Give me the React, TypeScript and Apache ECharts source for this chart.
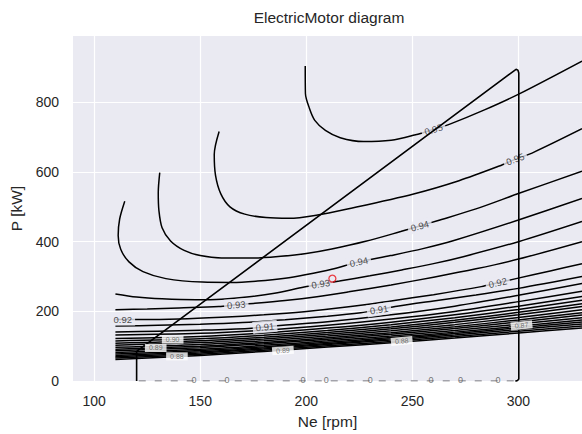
import { useEffect, useRef } from "react";
import * as echarts from "echarts";

const FONT = "'Liberation Sans', Arial, sans-serif";
const TEXT = "#262626";
const PANEL = "#EAEAF2";

const rpmTicks = [100, 150, 200, 250, 300];
const powerTicks = [0, 200, 400, 600, 800];

// Operating envelope: [Ne rpm, P kW]
const envelope = [
  [120, 0], [120, 85], [298.9, 894.5], [299.8, 892], [300.2, 884],
  [300.2, 6], [299.6, 1.5], [298.6, 0],
];

// Iso-efficiency lines, [Ne rpm, P kW]
const eff955 = [
  [199.5, 904], [199.6, 825], [201.5, 782], [204, 748], [209, 719], [216, 698],
  [227, 687], [240, 691], [251, 706], [260, 722], [268, 738], [284, 778],
  [300.4, 824], [330, 918],
];
const eff950 = [
  [158.9, 716], [156.6, 650], [157.2, 590], [159.7, 537], [164, 500], [171, 479],
  [181, 469], [192, 467], [204.7, 476], [219.4, 494], [250.6, 537], [272, 575],
  [291, 617], [298.5, 636], [307.4, 657], [330, 724],
];
const eff945 = [
  [130.9, 598], [130.2, 540], [130.5, 490], [132, 440], [136, 402], [142.4, 375],
  [150, 360], [160, 353], [175, 353], [188, 358], [200, 366], [212, 379],
  [228, 401], [244.5, 429], [253.5, 445], [261.8, 460], [280, 494], [300, 538],
  [330, 602],
];
const eff940 = [
  [114.4, 516], [112, 465], [111.3, 418], [112.5, 378], [116.4, 342], [123, 314],
  [133.8, 294], [151, 284], [165, 283], [177, 287], [190, 295], [199.5, 305],
  [212, 321], [224.8, 342], [239.7, 360], [255, 380], [270, 404], [300, 462],
  [330, 524],
];
const eff935 = [
  [110, 250], [120, 241], [132, 236], [148, 233.5], [160, 235], [172, 241],
  [185, 252], [199, 270], [207.5, 279], [215.6, 287], [230, 302], [245, 319],
  [260, 337], [274, 357], [300, 400], [330, 458],
];
const eff930 = [
  [110, 205], [125, 207], [140, 210], [158.7, 214], [167, 219], [175.8, 223],
  [190, 231], [205, 242], [220, 256], [240, 276], [260, 298], [280, 322],
  [300, 350], [330, 400],
];
const eff925 = [
  [110, 176.5], [121, 176.5], [140, 178], [160, 183], [180, 190], [199, 199],
  [220, 213], [240, 230], [260, 248], [282.5, 271], [290.3, 282], [298.9, 294],
  [315, 316], [330, 337],
];
const eff920 = [
  [110, 158], [130, 160], [150, 163], [170, 168], [190, 176], [210, 186],
  [225.7, 196], [234.3, 205], [242.8, 214.8], [260, 230], [280, 247], [300, 266],
  [330, 300],
];
const eff915 = [
  [110, 141], [130, 143], [150, 146], [172.7, 151], [180.5, 155.5], [189, 160],
  [210, 170], [240, 190], [270, 215], [300, 246], [330, 280],
];
const eff910 = [
  [110, 132], [150, 137], [180, 146], [210, 160], [240, 178], [270, 200],
  [300, 228], [330, 258],
];

// Densely packed low-efficiency lines, sampled at the same speeds
const bandRpm = [110, 150, 180, 210, 240, 270, 300, 330];
const bandPower = [
  [122.5, 128, 138, 152, 169, 190, 215, 243],
  [115, 121.2, 131.4, 145.2, 161.7, 181.8, 205.5, 231.7],
  [108.5, 115.4, 125.8, 139.4, 155.4, 174.6, 197.2, 222],
  [103, 110.4, 120.9, 134.4, 150, 168.6, 190.2, 213.7],
  [97, 105.1, 115.7, 129.1, 144.2, 162, 182.6, 204.7],
  [91.5, 100.1, 110.9, 124.1, 138.8, 156, 175.6, 196.4],
  [87, 96, 106.9, 120, 134.4, 151, 169.8, 189.6],
  [82, 91.5, 102.5, 115.5, 129.5, 145.5, 163.5, 182.1],
  [77.5, 87.5, 98.6, 111.5, 125.1, 140.5, 157.7, 175.3],
  [73.6, 84, 95.2, 108, 121.3, 136.3, 152.8, 169.5],
  [70, 80.7, 92, 104.7, 117.8, 132.3, 148.2, 164],
  [66, 77.1, 88.5, 101.1, 113.9, 127.9, 143.1, 158],
  [62, 73.5, 85, 97.5, 110, 123.5, 138, 152],
];

// Zero-efficiency line along the speed axis
const zeroLine = [[121, 0.5], [299, 0.5]];
const zeroLabelRpm = [147, 162.6, 198.5, 209.4, 230.2, 258.8, 272.7, 290.4];

// Inline contour labels: [Ne rpm, P kW, text]
const inlineLabels = [
  [260, 722, "0.95"],
  [298.5, 637, "0.95"],
  [253.5, 445, "0.94"],
  [224.8, 342, "0.94"],
  [206.8, 279, "0.93"],
  [167, 219, "0.93"],
  [113.5, 176.5, "0.92"],
  [290.3, 282, "0.92"],
  [234.3, 205, "0.91"],
  [180.5, 155.5, "0.91"],
];
const inlineAngles = [18, 21, 15, 12, 9, 4, 0, 13, 9, 5];

// Boxed labels inside the crowded low-efficiency region
const boxedLabels = [
  [137, 119, "0.90"],
  [129, 95, "0.89"],
  [139, 71, "0.88"],
  [189, 88, "0.89"],
  [245, 115, "0.88"],
  [301.5, 160, "0.87"],
];
const boxedAngles = [0, 0, 0, 4, 5, 6];

// Measured operating point
const operatingPoint = [212.3, 294];

export default function App() {
  const ref = useRef<HTMLDivElement>(null);

  useEffect(() => {
    document.body.style.margin = "0";
    const chart = echarts.init(ref.current!, null, { renderer: "svg" });

    const contour = (name: string, data: number[][]) => ({
      type: "line",
      name,
      data,
      symbol: "none",
      showSymbol: false,
      smooth: 0.3,
      clip: true,
      silent: true,
      z: 2,
      lineStyle: { color: "#000", width: 1.5 },
    });

    const upper = [
      ["0.955", eff955], ["0.950", eff950], ["0.945", eff945], ["0.940", eff940],
      ["0.935", eff935], ["0.930", eff930], ["0.925", eff925], ["0.920", eff920],
      ["0.915", eff915], ["0.910", eff910],
    ] as [string, number[][]][];

    const series: any[] = upper.map(([n, d]) => contour(n, d));
    bandPower.forEach((row, i) => {
      series.push(contour("band" + i, row.map((p, j) => [bandRpm[j], p])));
    });

    series.push({
      type: "line",
      name: "zero",
      data: zeroLine,
      symbol: "none",
      clip: true,
      silent: true,
      z: 2,
      lineStyle: { color: "#8c8c92", width: 1.2, type: [7, 9] },
    });

    series.push({
      type: "scatter",
      name: "zeroLabels",
      silent: true,
      z: 3,
      symbolSize: 1,
      itemStyle: { color: "rgba(0,0,0,0)" },
      data: zeroLabelRpm.map((x) => ({ value: [x, 4], name: "0" })),
      label: {
        show: true,
        position: "inside",
        formatter: "{b}",
        fontSize: 9,
        fontFamily: FONT,
        color: "#555",
      },
    });

    series.push({
      type: "scatter",
      name: "inlineLabels",
      silent: true,
      z: 3,
      symbolSize: 1,
      itemStyle: { color: "rgba(0,0,0,0)" },
      data: inlineLabels.map(([x, y, t], i) => ({
        value: [x, y],
        name: t,
        label: { rotate: inlineAngles[i] },
      })),
      label: {
        show: true,
        position: "inside",
        formatter: "{b}",
        fontSize: 9.5,
        fontFamily: FONT,
        color: "#222",
        backgroundColor: PANEL,
        padding: [1, 3],
      },
    });

    series.push({
      type: "line",
      name: "envelope",
      data: envelope,
      symbol: "none",
      clip: true,
      silent: true,
      z: 4,
      lineStyle: { color: "#000", width: 1.6 },
    });

    series.push({
      type: "scatter",
      name: "boxedLabels",
      silent: true,
      z: 5,
      symbolSize: 1,
      itemStyle: { color: "rgba(0,0,0,0)" },
      data: boxedLabels.map(([x, y, t], i) => ({
        value: [x, y],
        name: t,
        label: { rotate: boxedAngles[i] },
      })),
      label: {
        show: true,
        position: "inside",
        formatter: "{b}",
        fontSize: 7,
        lineHeight: 8,
        fontFamily: FONT,
        color: "#555",
        backgroundColor: "#ffffff",
        padding: [0, 4],
      },
    });

    series.push({
      type: "scatter",
      name: "operatingPoint",
      silent: true,
      z: 6,
      symbol: "circle",
      symbolSize: 7,
      data: [operatingPoint],
      itemStyle: { color: "rgba(0,0,0,0)", borderColor: "#e8141c", borderWidth: 1.3 },
    });

    chart.setOption({
      animation: false,
      backgroundColor: "#ffffff",
      textStyle: { fontFamily: FONT },
      graphic: [
        {
          type: "text",
          x: 329,
          y: 17,
          style: {
            text: "ElectricMotor diagram",
            fontSize: 15.5,
            fontFamily: FONT,
            fill: TEXT,
            textAlign: "center",
            textVerticalAlign: "middle",
          },
        },
      ],
      grid: {
        show: true,
        left: 73,
        top: 36,
        right: -3,
        bottom: 47,
        backgroundColor: PANEL,
        borderWidth: 0,
      },
      xAxis: {
        type: "value",
        min: 90,
        max: 330,
        name: "Ne [rpm]",
        nameLocation: "middle",
        nameGap: 31,
        nameTextStyle: { fontSize: 15.5, color: TEXT, fontFamily: FONT },
        axisLine: { show: false },
        axisTick: { show: false, customValues: rpmTicks },
        axisLabel: {
          customValues: rpmTicks,
          fontSize: 14,
          color: TEXT,
          fontFamily: FONT,
          margin: 13,
        },
        splitLine: { show: true, lineStyle: { color: "#ffffff", width: 1.2 } },
      },
      yAxis: {
        type: "value",
        min: 0,
        max: 990,
        name: "P [kW]",
        nameLocation: "middle",
        nameGap: 42,
        nameTextStyle: { fontSize: 15.5, color: TEXT, fontFamily: FONT },
        axisLine: { show: false },
        axisTick: { show: false, customValues: powerTicks },
        axisLabel: {
          customValues: powerTicks,
          fontSize: 14,
          color: TEXT,
          fontFamily: FONT,
          margin: 14,
        },
        splitLine: { show: true, lineStyle: { color: "#ffffff", width: 1.2 } },
      },
      series,
    });

    return () => chart.dispose();
  }, []);

  return (
    <div
      ref={ref}
      style={{ position: "absolute", left: 0, top: 0, width: 582, height: 434 }}
    />
  );
}
